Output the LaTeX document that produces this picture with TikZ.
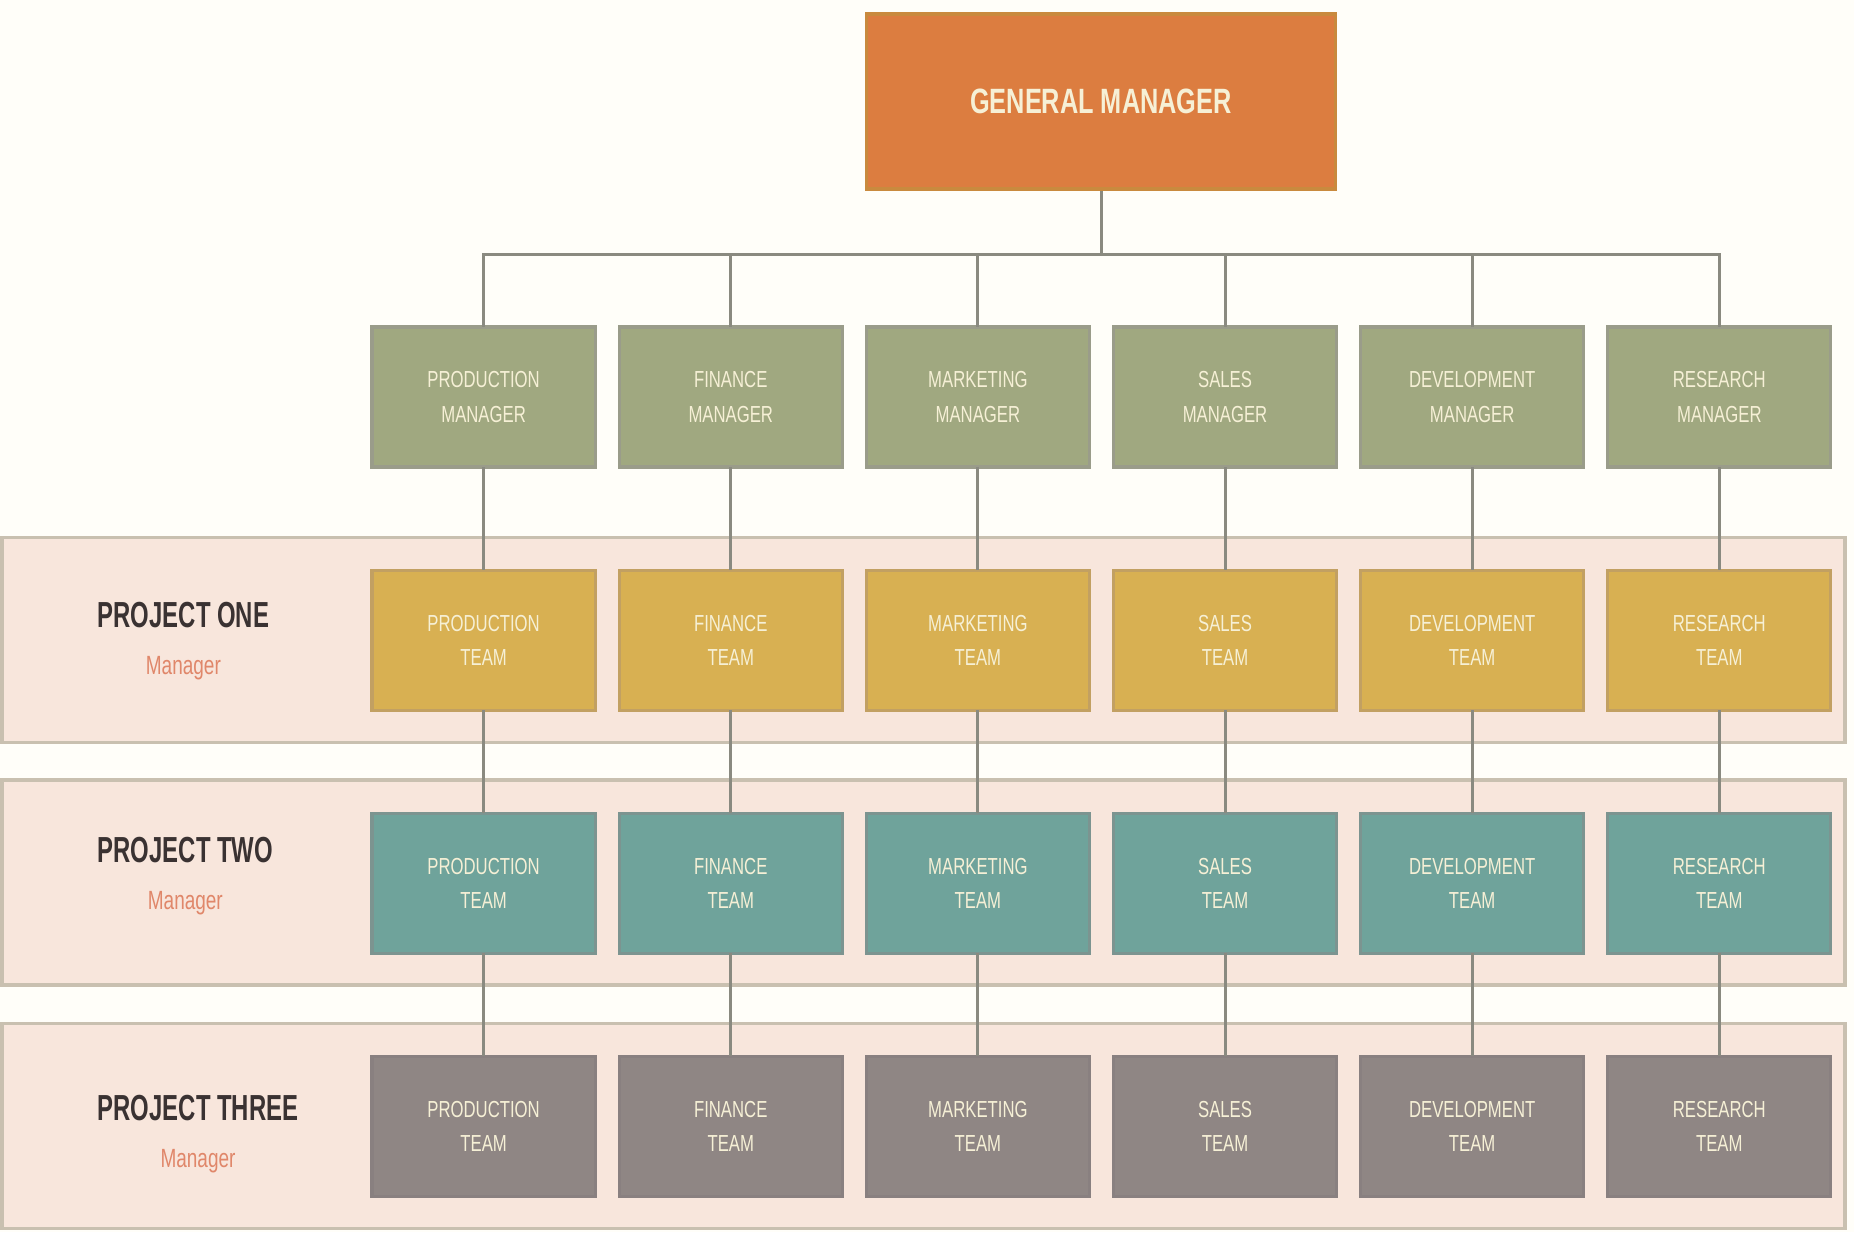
\documentclass[tikz,border=0pt]{standalone}
\usepackage{fontspec}
\setmainfont{Liberation Sans}
\newfontfamily\narrowfont[FakeStretch=0.72]{Liberation Sans}
\newfontfamily\titlefont[FakeStretch=0.66]{Liberation Sans}
\usepackage{tikz}
\usetikzlibrary{positioning}
\definecolor{pagebg}{HTML}{FFFEF9}
\definecolor{gmfill}{HTML}{DC7D40}
\definecolor{gmline}{HTML}{C98A3E}
\definecolor{mgrfill}{HTML}{A0A880}
\definecolor{mgrline}{HTML}{9A9C8A}
\definecolor{onefill}{HTML}{D8B052}
\definecolor{oneline}{HTML}{C2A062}
\definecolor{twofill}{HTML}{6FA39B}
\definecolor{twoline}{HTML}{7C9490}
\definecolor{threefill}{HTML}{8F8684}
\definecolor{threeline}{HTML}{898080}
\definecolor{bandfill}{HTML}{F8E6DC}
\definecolor{bandline}{HTML}{C9C0B0}
\definecolor{boxtext}{HTML}{F6F0D6}
\definecolor{linkgray}{HTML}{8A8A80}
\definecolor{labeldark}{HTML}{3A3232}
\definecolor{labelorange}{HTML}{E0876A}

\begin{document}
\begin{tikzpicture}[x=0.01cm, y=-0.01cm, node distance=1.03cm and 0.24cm,
    box/.style={line width=0.9pt, outer sep=0pt, minimum width=2.23cm, minimum height=1.4cm, inner sep=0pt, align=center, text=boxtext, font=\narrowfont\fontsize{6.6}{9.7}\selectfont},
    mgr/.style={box, draw=mgrline, fill=mgrfill},
    teamone/.style={box, draw=oneline, fill=onefill},
    teamtwo/.style={box, draw=twoline, fill=twofill},
    teamthree/.style={box, draw=threeline, fill=threefill},
    band/.style={draw=bandline, fill=bandfill, line width=1pt, minimum width=18.42cm, minimum height=2.045cm, inner sep=0pt},
    project/.style={anchor=west, inner sep=0pt, align=center, text=labeldark, font=\titlefont\bfseries\fontsize{10.3}{12.5}\selectfont},
    link/.style={draw=linkgray, line width=0.85pt}]

        \fill[pagebg] (0,0) rectangle (1854,1232);

        % project bands
        \node[band] (band1) at (923.5,640) {};
        \node[band] (band2) at (923.5,882.5) {};
        \node[band] (band3) at (923.5,1126) {};

        \node[project] (one) at (97,641) {PROJECT ONE\\[1pt]{\narrowfont\mdseries\fontsize{7.5}{9}\selectfont\color{labelorange}Manager}};
        \node[project] (two) at (97,876) {PROJECT TWO\\[1pt]{\narrowfont\mdseries\fontsize{7.5}{9}\selectfont\color{labelorange}Manager}};
        \node[project] (three) at (97,1134) {PROJECT THREE\\[1pt]{\narrowfont\mdseries\fontsize{7.5}{9}\selectfont\color{labelorange}Manager}};

        % general manager
        \node[draw=gmline, fill=gmfill, line width=1pt, minimum width=4.69cm, minimum height=1.75cm, text=boxtext, font=\narrowfont\bfseries\fontsize{10}{11}\selectfont] (gm) at (1101,101.5) {GENERAL MANAGER\\[-2pt]\vphantom{x}};

        % managers
        \node[mgr] (m1) at (483.6,397) {PRODUCTION\\MANAGER};
        \node[mgr] (m2) [right=of m1] {FINANCE\\MANAGER};
        \node[mgr] (m3) [right=of m2] {MARKETING\\MANAGER};
        \node[mgr] (m4) [right=of m3] {SALES\\MANAGER};
        \node[mgr] (m5) [right=of m4] {DEVELOPMENT\\MANAGER};
        \node[mgr] (m6) [right=of m5] {RESEARCH\\MANAGER};

        % project one
        \node[teamone] (a1) [below=of m1] {PRODUCTION\\TEAM};
        \node[teamone] (a2) [below=of m2] {FINANCE\\TEAM};
        \node[teamone] (a3) [below=of m3] {MARKETING\\TEAM};
        \node[teamone] (a4) [below=of m4] {SALES\\TEAM};
        \node[teamone] (a5) [below=of m5] {DEVELOPMENT\\TEAM};
        \node[teamone] (a6) [below=of m6] {RESEARCH\\TEAM};

        % project two
        \node[teamtwo] (b1) [below=of a1] {PRODUCTION\\TEAM};
        \node[teamtwo] (b2) [below=of a2] {FINANCE\\TEAM};
        \node[teamtwo] (b3) [below=of a3] {MARKETING\\TEAM};
        \node[teamtwo] (b4) [below=of a4] {SALES\\TEAM};
        \node[teamtwo] (b5) [below=of a5] {DEVELOPMENT\\TEAM};
        \node[teamtwo] (b6) [below=of a6] {RESEARCH\\TEAM};

        % project three
        \node[teamthree] (c1) [below=of b1] {PRODUCTION\\TEAM};
        \node[teamthree] (c2) [below=of b2] {FINANCE\\TEAM};
        \node[teamthree] (c3) [below=of b3] {MARKETING\\TEAM};
        \node[teamthree] (c4) [below=of b4] {SALES\\TEAM};
        \node[teamthree] (c5) [below=of b5] {DEVELOPMENT\\TEAM};
        \node[teamthree] (c6) [below=of b6] {RESEARCH\\TEAM};

        \coordinate (bus) at (1101,254);

        \draw[link] (gm) -- (bus);
        \draw[link] (m1) -- (m1 |- bus) -- (m6 |- bus) -- (m6);
        \draw[link] (m2) -- (m2 |- bus);
        \draw[link] (m3) -- (m3 |- bus);
        \draw[link] (m4) -- (m4 |- bus);
        \draw[link] (m5) -- (m5 |- bus);

        \draw[link] (m1) -- (a1);
        \draw[link] (m2) -- (a2);
        \draw[link] (m3) -- (a3);
        \draw[link] (m4) -- (a4);
        \draw[link] (m5) -- (a5);
        \draw[link] (m6) -- (a6);

        \draw[link] (a1) -- (b1);
        \draw[link] (a2) -- (b2);
        \draw[link] (a3) -- (b3);
        \draw[link] (a4) -- (b4);
        \draw[link] (a5) -- (b5);
        \draw[link] (a6) -- (b6);

        \draw[link] (b1) -- (c1);
        \draw[link] (b2) -- (c2);
        \draw[link] (b3) -- (c3);
        \draw[link] (b4) -- (c4);
        \draw[link] (b5) -- (c5);
        \draw[link] (b6) -- (c6);
    \end{tikzpicture}
\end{document}
